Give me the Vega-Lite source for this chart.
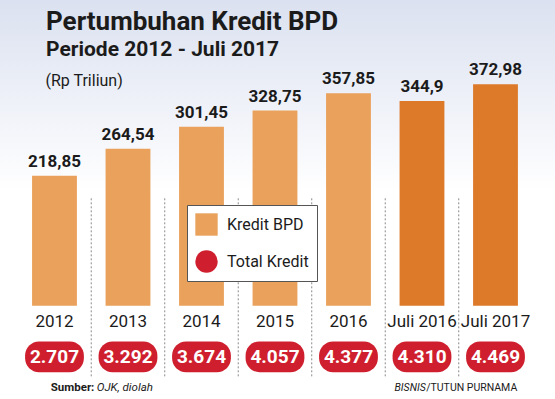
{
  "$schema": "https://vega.github.io/schema/vega-lite/v6.json",
  "width": 555,
  "height": 399,
  "autosize": {"type": "fit", "contains": "padding"},
  "padding": 0,
  "background": "#ffffff",
  "title": {
    "text": "Pertumbuhan Kredit BPD",
    "subtitle": "Periode 2012 - Juli 2017",
    "anchor": "start",
    "frame": "group",
    "dx": 46,
    "offset": -60,
    "font": "Roboto",
    "fontSize": 26,
    "fontWeight": "bold",
    "color": "#1b1b1b",
    "subtitleFont": "Roboto",
    "subtitleFontSize": 21,
    "subtitleFontWeight": "bold",
    "subtitleColor": "#1b1b1b",
    "subtitlePadding": 4
  },
  "config": {
    "view": {
      "stroke": null,
      "fill": {
        "gradient": "linear",
        "x1": 0, "y1": 0, "x2": 0, "y2": 1,
        "stops": [
          {"offset": 0, "color": "#dbe1f0"},
          {"offset": 0.48, "color": "#ffffff"},
          {"offset": 1, "color": "#ffffff"}
        ]
      }
    },
    "locale": {"number": {"decimal": ",", "thousands": ".", "grouping": [3], "currency": ["Rp", ""]}},
    "font": "Roboto"
  },
  "data": {
    "values": [
      {"tahun": "2012", "kredit": 218.85, "total": 2707, "seri": "Kredit BPD"},
      {"tahun": "2013", "kredit": 264.54, "total": 3292, "seri": "Kredit BPD"},
      {"tahun": "2014", "kredit": 301.45, "total": 3674, "seri": "Kredit BPD"},
      {"tahun": "2015", "kredit": 328.75, "total": 4057, "seri": "Kredit BPD"},
      {"tahun": "2016", "kredit": 357.85, "total": 4377, "seri": "Kredit BPD"},
      {"tahun": "Juli 2016", "kredit": 344.9, "total": 4310, "seri": "Kredit BPD Juli"},
      {"tahun": "Juli 2017", "kredit": 372.98, "total": 4469, "seri": "Kredit BPD Juli"}
    ]
  },
  "encoding": {
    "x": {
      "field": "tahun",
      "type": "nominal",
      "sort": null,
      "axis": null,
      "scale": {
        "domain": ["2012", "2013", "2014", "2015", "2016", "Juli 2016", "Juli 2017"],
        "paddingInner": 0, "paddingOuter": 0.2755, "align": 0.438
      }
    }
  },
  "layer": [
    {
      "mark": {"type": "bar", "width": {"band": 0.61}},
      "encoding": {
        "y": {
          "field": "kredit",
          "type": "quantitative",
          "scale": {"domain": [-157, 515], "nice": false, "zero": false},
          "axis": {
            "title": "(Rp Triliun)",
            "domain": false,
            "labels": false,
            "ticks": false,
            "grid": false,
            "titleAngle": 0,
            "titleAlign": "left",
            "titleBaseline": "alphabetic",
            "titleX": 45,
            "titleY": 85,
            "titleFont": "Roboto",
            "titleFontSize": 16,
            "titleFontWeight": "normal",
            "titleColor": "#1b1b1b",
            "minExtent": 0,
            "maxExtent": 0
          }
        },
        "color": {
          "field": "seri",
          "type": "nominal",
          "scale": {
            "domain": ["Kredit BPD", "Kredit BPD Juli", "Total Kredit"],
            "range": ["#e9a15b", "#dc7a2a", "#cf1f2e"]
          }
        }
      }
    },
    {
      "transform": [{"filter": "datum.tahun !== '2012'"}],
      "mark": {"type": "rule", "color": "#8a8a8a", "strokeWidth": 1, "strokeDash": [2, 2]},
      "encoding": {
        "x": {"field": "tahun", "type": "nominal", "sort": null, "bandPosition": 0},
        "y": {"datum": 181, "type": "quantitative"},
        "y2": {"datum": -120}
      }
    },
    {
      "mark": {"type": "text", "baseline": "alphabetic", "dy": -9, "fontSize": 17, "fontWeight": "bold", "color": "#1b1b1b"},
      "encoding": {
        "y": {"field": "kredit", "type": "quantitative"},
        "text": {"field": "kredit", "type": "quantitative", "format": ".2~f"}
      }
    },
    {
      "mark": {"type": "text", "baseline": "alphabetic", "fontSize": 17, "color": "#1b1b1b"},
      "encoding": {
        "y": {"datum": -36, "type": "quantitative"},
        "text": {"field": "tahun", "type": "nominal"}
      }
    },
    {
      "mark": {"type": "bar", "cornerRadius": 14, "width": {"band": 0.8}, "color": "#cf1f2e"},
      "encoding": {
        "y": {"datum": -60, "type": "quantitative"},
        "y2": {"datum": -112}
      }
    },
    {
      "mark": {"type": "text", "baseline": "alphabetic", "fontSize": 19, "fontWeight": "bold", "color": "#ffffff"},
      "encoding": {
        "y": {"datum": -96, "type": "quantitative"},
        "text": {"field": "total", "type": "quantitative", "format": ",d"}
      }
    },
    {
      "mark": {"type": "point", "size": 0, "filled": true, "opacity": 1},
      "encoding": {
        "y": {"field": "kredit", "type": "quantitative"},
        "color": {
          "field": "seri",
          "type": "nominal",
          "legend": {
            "title": null,
            "orient": "none",
            "legendX": 187,
            "legendY": 205,
            "values": ["Kredit BPD", "Total Kredit"],
            "padding": 8,
            "strokeColor": "#555555",
            "fillColor": "#ffffff",
            "symbolSize": 500,
            "symbolStrokeWidth": 0,
            "labelFont": "Roboto",
            "labelFontSize": 16,
            "labelColor": "#1b1b1b",
            "rowPadding": 14,
            "labelOffset": 9
          }
        },
        "shape": {
          "field": "seri",
          "type": "nominal",
          "scale": {
            "domain": ["Kredit BPD", "Kredit BPD Juli", "Total Kredit"],
            "range": ["square", "square", "circle"]
          },
          "legend": {
            "title": null,
            "orient": "none",
            "legendX": 187,
            "legendY": 205,
            "values": ["Kredit BPD", "Total Kredit"]
          }
        }
      }
    },
    {
      "data": {"values": [{"teks": "Sumber:"}]},
      "mark": {"type": "text", "align": "left", "baseline": "alphabetic", "dx": 33, "fontSize": 11.5, "fontWeight": "bold", "color": "#1b1b1b"},
      "encoding": {
        "x": {"datum": "2012", "bandPosition": 0},
        "y": {"datum": -143, "type": "quantitative"},
        "text": {"field": "teks", "type": "nominal"}
      }
    },
    {
      "data": {"values": [{"teks": "OJK, diolah"}]},
      "mark": {"type": "text", "align": "left", "baseline": "alphabetic", "dx": 79, "fontSize": 11.5, "fontStyle": "italic", "color": "#1b1b1b"},
      "encoding": {
        "x": {"datum": "2012", "bandPosition": 0},
        "y": {"datum": -143, "type": "quantitative"},
        "text": {"field": "teks", "type": "nominal"}
      }
    },
    {
      "data": {"values": [{"teks": "/TUTUN PURNAMA"}]},
      "mark": {"type": "text", "align": "right", "baseline": "alphabetic", "dx": -15, "fontSize": 10.5, "color": "#1b1b1b"},
      "encoding": {
        "x": {"datum": "Juli 2017", "bandPosition": 1},
        "y": {"datum": -143, "type": "quantitative"},
        "text": {"field": "teks", "type": "nominal"}
      }
    },
    {
      "data": {"values": [{"teks": "BISNIS"}]},
      "mark": {"type": "text", "align": "right", "baseline": "alphabetic", "dx": -106.5, "fontSize": 10.5, "fontStyle": "italic", "color": "#1b1b1b"},
      "encoding": {
        "x": {"datum": "Juli 2017", "bandPosition": 1},
        "y": {"datum": -143, "type": "quantitative"},
        "text": {"field": "teks", "type": "nominal"}
      }
    }
  ]
}
